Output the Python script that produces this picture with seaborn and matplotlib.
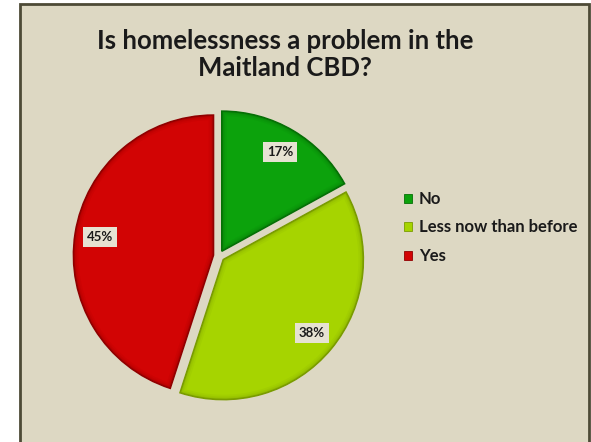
import matplotlib
matplotlib.use("Agg")
import matplotlib.pyplot as plt
from matplotlib.patches import Rectangle, Patch, Wedge
import seaborn as sns

# Survey responses
categories = ["No", "Less now than before", "Yes"]
shares = [17, 38, 45]
slice_colors = ["#0ca20c", "#a6d400", "#d20404"]
edge_colors = ["#067006", "#7a9c00", "#900000"]
title_lines = ["Is homelessness a problem in the", "Maitland CBD?"]

sns.set_theme(style="white")
plt.rcParams["font.family"] = ["Lato", "DejaVu Sans"]

W, H = 591, 442
fig = plt.figure(figsize=(W / 100, H / 100), dpi=100)
fig.patch.set_facecolor("white")

# beige chart area with dark frame
bg = "#ddd8c3"
frame = fig.add_axes([0, 0, 1, 1], zorder=-10)
frame.set_xlim(0, W)
frame.set_ylim(H, 0)
frame.axis("off")
frame.add_patch(Rectangle((19.5, 3.5), 569, H + 10, facecolor=bg,
                          edgecolor="#4d4a36", linewidth=2.0))

for line, base in zip(title_lines, [49, 76]):
    fig.text(285 / W, 1 - base / H, line, ha="center", va="baseline",
             fontsize=18.5, fontweight="bold", color="#1a1a1a")

# pie axes: unit radius = 140 px, centred at (219, 256)
R = 140
cx, cy = 219, 256
span = 2.2 * R
ax = fig.add_axes([(cx - span / 2) / W, (H - cy - span / 2) / H, span / W, span / H])
ax.set_facecolor("none")

wedges, texts, autotexts = ax.pie(
    shares, colors=slice_colors, startangle=90, counterclock=False,
    explode=[0.04] * len(shares), radius=1.0,
    autopct=lambda p: f"{p:.0f}%", pctdistance=0.82,
    wedgeprops=dict(linewidth=1.2),
    textprops=dict(fontsize=9.5, fontweight="bold", color="#1a1a1a", zorder=5))
for w, ec in zip(wedges, edge_colors):
    w.set_edgecolor(ec)
    # soft bevel: darker strokes along the rim, clipped to the slice
    for lw, a in [(7, 0.10), (4.5, 0.14), (2.5, 0.2)]:
        rim = Wedge(w.center, w.r, w.theta1, w.theta2, facecolor="none",
                    edgecolor=ec, linewidth=lw, alpha=a, zorder=2)
        ax.add_patch(rim)
        rim.set_clip_path(w)
for t in autotexts:
    t.set_bbox(dict(boxstyle="square,pad=0.3", facecolor="#e6e2d2", edgecolor="none"))
ax.set_xlim(-1.1, 1.1)
ax.set_ylim(-1.1, 1.1)
ax.set_aspect("equal")
ax.axis("off")

handles = [Patch(facecolor=c, edgecolor=e, linewidth=0.6) for c, e in zip(slice_colors, edge_colors)]
leg = fig.legend(handles, categories, loc="upper left",
                 bbox_to_anchor=(389 / W, 1 - 176 / H), frameon=False,
                 prop=dict(size=12, weight="bold"), handlelength=0.45, handleheight=0.45,
                 handletextpad=0.45, labelspacing=0.75)
for t in leg.get_texts():
    t.set_color("#1a1a1a")

fig.savefig("out.png", dpi=100, facecolor="white")
